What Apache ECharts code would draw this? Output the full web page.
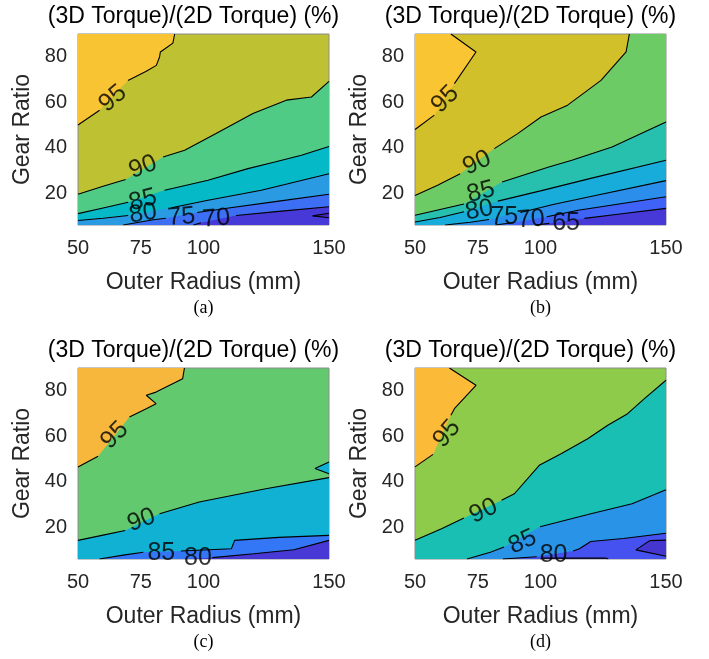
<!DOCTYPE html>
<html>
<head>
<meta charset="utf-8">
<script src="https://cdn.jsdelivr.net/npm/echarts@6/dist/echarts.min.js"></script>
<style>
  html, body { margin: 0; padding: 0; background: #fff; }
  #chart { width: 709px; height: 659px; }
</style>
</head>
<body>
<div id="chart"></div>
<script>
const xTicks = [50, 75, 100, 150];
const yTicks = [20, 40, 60, 80];
const xRange = [50, 150];
const yRange = [6, 90];
const captions = ['(a)', '(b)', '(c)', '(d)'];

// contour lines: [radius, gear ratio], null = gap for the level label
// (a)
const aColors = ['#F9C434', '#BEC131', '#4FCB86', '#05B9C7', '#2A9AE3', '#3D6FF5', '#4639D7', '#4427BE'];
const a95 = [[50, 50], [58.6, 56.5], null, [69.9, 69.6], [77.2, 73.6], [81.2, 76.2], [82.5, 79.9], [82.8, 82.1], [84.8, 83.6], [87.8, 86], [88.5, 90]];
const a90 = [[50, 19.5], [60, 23], [69, 26], null, [83.9, 35.9], [92.5, 38.9], [105, 46.2], [119.7, 55], [133, 60.9], [143, 62.3], [150, 69.2]];
const a85 = [[50, 11], [60, 13.5], [70, 16], null, [84.5, 21.3], [101.8, 25.7], [117.7, 30.8], [128.4, 33.7], [139, 36.7], [150, 40.5]];
const a80 = [[50, 8], [60, 9], [70, 10.2], null, [87.2, 13.6], [101.8, 16.9], [123, 21.3], [150, 28.5]];
const a75 = [[68, 6], [80, 8.3], [85, 9], null, [97.5, 11.5], [110, 13.5], [130, 16.5], [150, 19.5]];
const a70 = [[96, 6], [99, 7], null, [113, 10.2], [130, 12], [150, 14]];
const a65 = [[150, 11.2], [143.5, 10], [150, 9.2]];
const aLabels = [[63.9, 61.6, '95', 40], [75.9, 31.5, '90', 20], [75.9, 16.9, '85', 15], [75.9, 11, '80', 10], [91.2, 9.5, '75', 5], [105.1, 8.8, '70', 5]];

// (b)
const bColors = ['#F9C532', '#D2C02A', '#6DCB66', '#27BFAE', '#17ACD9', '#2A8EEA', '#3F63F6', '#4639D7', '#4427BE'];
const b95 = [[50, 48], [57.7, 54.3], null, [65.7, 68.2], [74.3, 82.1], [64.3, 90]];
const b90 = [[50, 19], [59, 23.5], [68, 28.5], null, [81.6, 39.6], [90.9, 46.2], [100.2, 53.5], [110.8, 58.7], [124.1, 69.6], [134.1, 82.1], [135.4, 90]];
const b85 = [[50, 10.3], [60, 12.8], [69.5, 15.2], null, [84.7, 24.9], [103.3, 31.5], [112.5, 34.5], [128.5, 40.3], [150, 51.3]];
const b80 = [[50, 7.3], [60, 9.3], [69.5, 11.8], null, [83, 16.5], [100, 21], [120, 26.5], [150, 34.5]];
const b75 = [[62, 6], [72, 7.2], [79.5, 8.4], null, [92, 11.5], [105, 15], [120, 18.5], [150, 25.5]];
const b70 = [[82, 6], [89.5, 7.1], null, [102.5, 9.6], [115, 12.5], [130, 15], [150, 18.4]];
const b65 = [[98, 6], [103.5, 6.7], null, [117.5, 8.9], [130, 10.6], [150, 13.3]];
const bLabels = [[62, 61.3, '95', 45], [74.7, 33.3, '90', 25], [76.3, 20.5, '85', 15], [75.6, 12.5, '80', 10], [85.6, 9.5, '75', 0], [96.2, 8.4, '70', 5], [110.2, 6.9, '65', 0]];

// (c)
const cColors = ['#F6B73C', '#63C96E', '#10B1D2', '#3477F6', '#4838D6'];
const c95 = [[50, 46.5], [58, 51.2], null, [70.5, 68.4], [77.2, 72.1], [81.1, 74.3], [77.2, 78], [81.1, 79.4], [91.7, 85.3], [92.4, 90]];
const c90 = [[50, 14.2], [60, 16.5], [68.8, 18.5], null, [82.5, 25.9], [98.3, 31.1], [124.8, 36.9], [150, 41.8]];
const c90b = [[150, 48.7], [144.4, 45.8], [150, 43.5]];
const c85 = [[58.6, 6], [68, 7.7], [76, 9], null, [91, 9.5], [111.1, 10.5], [112.4, 14.2], [130, 15.5], [150, 16.4]];
const c80 = [[92, 6], null, [103.5, 6.6], [120, 8.3], [136, 10.1], [150, 14.2]];
const cLabels = [[64.6, 60.4, '95', 45], [75.3, 23, '90', 20], [83.2, 8.4, '85', 0], [97.8, 6.5, '80', 0]];

// (d)
const dColors = ['#FBBA37', '#8ECB4B', '#19BFB3', '#2994E7', '#4652EF', '#4536CF'];
const d95 = [[50, 46.5], [57.2, 52], null, [64.3, 69.2], [65.7, 72.1], [74.3, 82.4], [63.7, 90]];
const d90 = [[50, 14.2], [60.8, 19.4], [69.5, 24], null, [84.5, 31.8], [89.6, 34.7], [99.5, 47.2], [108.2, 52.3], [118.8, 58.9], [126.8, 64.8], [134.7, 69.9], [141.4, 76.5], [150, 84.6]];
const d85 = [[70.7, 6], [80, 9], [85.5, 11.3], null, [99.8, 20.2], [120.5, 26], [136.5, 30.3], [150, 36.5]];
const d80 = [[85, 6], [98.5, 7], null, [113, 9.5], [115.5, 10.5], [120, 13.7], [133, 15], [150, 17.3]];
const d75 = [[150, 14.3], [143.5, 14.1], [138, 10], [150, 7.2]];
const d75b = [[100, 6], [101, 6.4], [126, 6.4], [127, 6]];
const dLabels = [[62.7, 61.1, '95', 50], [77.3, 27.1, '90', 25], [92.9, 13.5, '85', 25], [105.2, 7.6, '80', 0]];

const panels = [
  { colors: aColors, contours: [a95, a90, a85, a80, a75, a70], islands: [[a65, 7]], labels: aLabels },
  { colors: bColors, contours: [b95, b90, b85, b80, b75, b70, b65], islands: [], labels: bLabels },
  { colors: cColors, contours: [c95, c90, c85, c80], islands: [[c90b, 2]], labels: cLabels },
  { colors: dColors, contours: [d95, d90, d85, d80], islands: [[d75, 5], [d75b, 5]], labels: dLabels }
];

const layout = [
  { left: 78, top: 34 },
  { left: 415, top: 34 },
  { left: 78, top: 368 },
  { left: 415, top: 368 }
];
const W = 251, H = 191;
const FONT = '"Liberation Sans", Arial, sans-serif';

function segments(c) {
  const out = [];
  let cur = [];
  c.forEach(p => {
    if (p === null) { if (cur.length > 1) out.push(cur); cur = []; }
    else cur.push(p);
  });
  if (cur.length > 1) out.push(cur);
  return out;
}

function fillData(c) {
  const p = c.filter(Boolean);
  const last = p[p.length - 1];
  if (last[1] >= yRange[1] && last[0] < xRange[1]) p.push([xRange[1], yRange[1]]);
  return p;
}

function onBorder(p, q) {
  return (p[0] === xRange[1] && q[0] === xRange[1]) || (p[1] === yRange[0] && q[1] === yRange[0]);
}

const grids = [], xAxes = [], yAxes = [], series = [], graphics = [];

panels.forEach((pn, gi) => {
  const lay = layout[gi];
  grids.push({
    left: lay.left, top: lay.top, width: W, height: H,
    show: true, backgroundColor: pn.colors[1], borderColor: '#8c8c8c', borderWidth: 1
  });
  xAxes.push({
    gridIndex: gi, type: 'value', min: xRange[0], max: xRange[1],
    axisLine: { show: false }, axisTick: { show: false }, splitLine: { show: false },
    axisLabel: { customValues: xTicks, fontSize: 20, color: '#262626', margin: 13, fontFamily: FONT },
    name: 'Outer Radius (mm)', nameLocation: 'middle', nameGap: 46,
    nameTextStyle: { fontSize: 23, color: '#262626', fontFamily: FONT }
  });
  yAxes.push({
    gridIndex: gi, type: 'value', min: yRange[0], max: yRange[1],
    axisLine: { show: false }, axisTick: { show: false }, splitLine: { show: false },
    axisLabel: { customValues: yTicks, fontSize: 20, color: '#262626', margin: 11, fontFamily: FONT },
    name: 'Gear Ratio', nameLocation: 'middle', nameGap: 44, nameRotate: 90,
    nameTextStyle: { fontSize: 23, color: '#262626', fontFamily: FONT }
  });

  // filled bands
  pn.contours.forEach((c, i) => {
    series.push({
      type: 'line', xAxisIndex: gi, yAxisIndex: gi, data: fillData(c),
      symbol: 'none', silent: true, animation: false, z: 2,
      lineStyle: { width: 0, opacity: 0 },
      areaStyle: { color: i === 0 ? pn.colors[0] : pn.colors[i + 1], opacity: 1, origin: i === 0 ? 'end' : 'start' }
    });
  });
  pn.islands.forEach(([pts, band]) => {
    series.push({
      type: 'custom', xAxisIndex: gi, yAxisIndex: gi, data: pts, silent: true, animation: false, z: 2,
      renderItem(params, api) {
        if (params.dataIndex !== 0) return null;
        return { type: 'polygon', shape: { points: pts.map(p => api.coord(p)) }, style: { fill: pn.colors[band] } };
      }
    });
  });

  // contour lines
  const addLine = seg => series.push({
    type: 'line', xAxisIndex: gi, yAxisIndex: gi, data: seg,
    symbol: 'none', silent: true, animation: false, z: 3,
    lineStyle: { color: '#000', width: 1.1 }
  });
  pn.contours.forEach(c => segments(c).forEach(addLine));
  pn.islands.forEach(([pts]) => {
    for (let k = 0; k < pts.length; k++) {
      const p = pts[k], q = pts[(k + 1) % pts.length];
      if (!onBorder(p, q)) addLine([p, q]);
    }
  });

  // level labels
  series.push({
    type: 'scatter', xAxisIndex: gi, yAxisIndex: gi, symbolSize: 1, silent: true, animation: false, z: 5,
    itemStyle: { color: 'rgba(0,0,0,0)' },
    label: { show: true, position: 'inside', fontSize: 25, color: '#000', fontFamily: FONT },
    data: pn.labels.map(l => ({ value: [l[0], l[1]], label: { formatter: l[2], rotate: l[3] } }))
  });

  const cx = lay.left + W / 2;
  graphics.push({
    type: 'text', x: cx - 10, y: lay.top - 17,
    style: { text: '(3D Torque)/(2D Torque) (%)', font: '23px ' + FONT, fill: '#000', textAlign: 'center', textVerticalAlign: 'middle' }
  });
  graphics.push({
    type: 'text', x: cx, y: lay.top + H + 83,
    style: { text: captions[gi], font: '18px "Liberation Serif", "Times New Roman", serif', fill: '#000', textAlign: 'center', textVerticalAlign: 'middle' }
  });
});

const chart = echarts.init(document.getElementById('chart'));
chart.setOption({
  animation: false,
  textStyle: { fontFamily: FONT },
  grid: grids,
  xAxis: xAxes,
  yAxis: yAxes,
  series: series,
  graphic: graphics
});
</script>
</body>
</html>
